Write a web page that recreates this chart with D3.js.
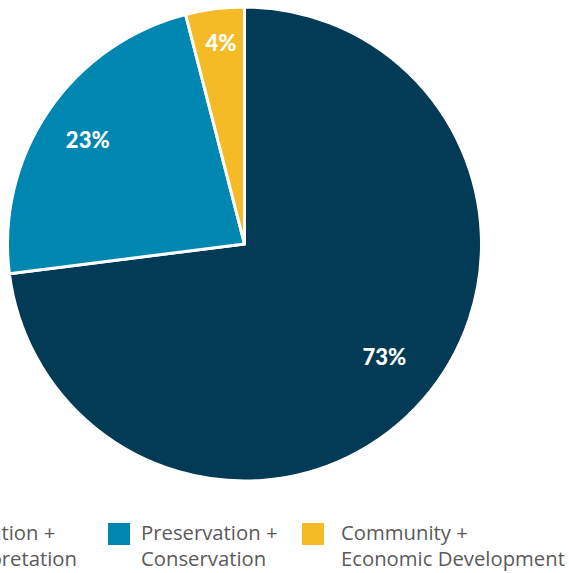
<!DOCTYPE html>
<html><head><meta charset="utf-8">
<script src="https://cdn.jsdelivr.net/npm/d3@7"></script>
<style>html,body{margin:0;padding:0;background:#fff;overflow:hidden}</style>
</head><body>
<svg id="chart" width="569" height="573"></svg>
<script>
const categories = ["Education + Interpretation", "Preservation + Conservation", "Community + Economic Development"];
const values = [73, 23, 4];
const labels = ["73%", "23%", "4%"];
const legendLines = [["Education +", "Interpretation"], ["Preservation +", "Conservation"], ["Community +", "Economic Development"]];
const colors = ["#033a55", "#0087b1", "#f4bb26"];

const svg = d3.select("#chart");
const cx = 244.5, cy = 244, r = 237;
const labelRadius = [180, 188, 202];
const labelAngleShift = [-2.4, -0.7, 0.5]; // degrees

const pie = d3.pie().sort(null).value(d => d)(values);
const arc = d3.arc().innerRadius(0).outerRadius(r);
const g = svg.append("g").attr("transform", `translate(${cx},${cy})`);
g.selectAll("path").data(pie).join("path")
  .attr("d", arc)
  .attr("fill", (d, i) => colors[i])
  .attr("stroke", "#fff").attr("stroke-width", 3).attr("stroke-linejoin", "round");

g.selectAll("text").data(pie).join("text")
  .attr("transform", (d, i) => {
    const a = (d.startAngle + d.endAngle) / 2 + labelAngleShift[i] * Math.PI / 180;
    return `translate(${Math.sin(a) * labelRadius[i]},${-Math.cos(a) * labelRadius[i]})`;
  })
  .attr("text-anchor", "middle").attr("dy", "0.36em")
  .attr("fill", "#fff").attr("font-family", "Lato, sans-serif")
  .attr("font-weight", 900).attr("font-size", 22)
  .text((d, i) => labels[i]);

// legend
const squareX = [-86, 108, 302];
const textX = [-53, 141, 341];
const legendFont = "'Open Sans', sans-serif";
// fit font size so the longest line width matches the reference layout
const probe = svg.append("text").attr("font-family", legendFont).attr("font-size", 20).text("Economic Development");
const fs = 20 * 224 / probe.node().getComputedTextLength();
probe.remove();

const legend = svg.append("g");
categories.forEach((c, i) => {
  const lg = legend.append("g");
  lg.append("rect").attr("x", squareX[i]).attr("y", 523).attr("width", 22).attr("height", 22).attr("fill", colors[i]);
  const t = lg.append("text").attr("font-family", legendFont).attr("font-size", fs).attr("fill", "#5a5a5a");
  legendLines[i].forEach((ln, k) => {
    t.append("tspan").attr("x", textX[i]).attr("y", 540 + k * 26).text(ln);
  });
});
const first = legend.select("g");
const tn = first.select("text").selectAll("tspan").nodes()[1];
const w = tn.getComputedTextLength();
first.attr("transform", `translate(${77 - (textX[0] + w)},0)`);
</script>
</body></html>
